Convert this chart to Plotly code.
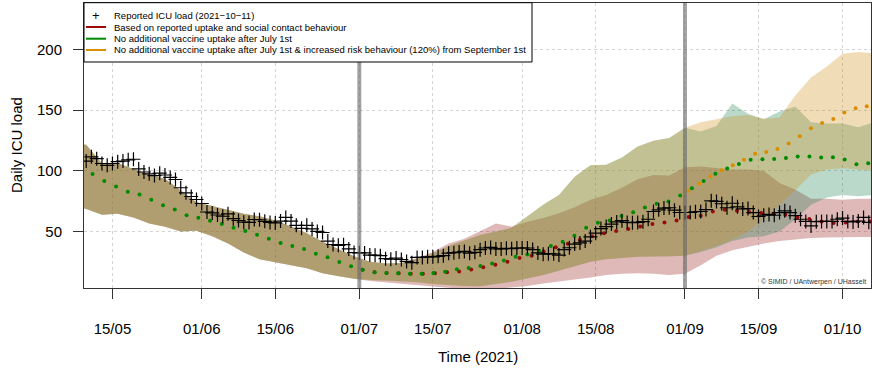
import pandas as pd
import plotly.graph_objects as go

BASE = pd.Timestamp("2021-05-10")

# ---------------- data ----------------
reported = [108, 111.5, 110, 106, 104.5, 106, 107.5, 108, 109, 109.5,
            101.5, 99, 97.5, 96, 98, 96.5, 94.5, 92.8, 86, 81.8,
            78.8, 76.3, 73, 66, 65.2, 63.5, 62.5, 64.5, 60.5, 59,
            57.6, 57.4, 59.8, 59.6, 58.3, 57.4, 57, 58.5, 61.5, 58.5,
            55, 52.5, 55, 52, 50, 49.1, 42, 39.2, 38.5, 39,
            35.5, 32.5, 32.2, 32.2, 30.5, 30.4, 30, 27.5, 27, 28,
            26.8, 25.2, 24.2, 28.5, 28.5, 29, 29, 29.4, 30, 32,
            32.4, 33, 33.5, 32, 32.7, 34.9, 36.3, 36.8, 35.5, 35.5,
            36, 35.7, 36.3, 36.3, 36.3, 35, 32.2, 31.2, 31.6, 31.5,
            30.5, 35, 36.5, 39.5, 40.5, 42, 45.5, 48.5, 52.3, 54,
            56, 57.8, 58.8, 57.4, 57.2, 57.4, 58, 60, 66.4, 67.8,
            69.2, 69.5, 67.5, 65.6, 65.6, 65.6, 66.2, 66.4, 68, 75.2,
            74.7, 72.8, 69.5, 73.2, 70.3, 68.5, 68.8, 65.5, 62.3, 63.3,
            64, 63.3, 65.5, 67, 65.5, 63, 60, 58.2, 54.5, 58,
            58.2, 58.2, 58.2, 60, 61, 58.2, 57.8, 58.5, 61.5, 57.5]
reported_dates = pd.date_range("2021-05-10", periods=len(reported), freq="D")

green_mean = [97.3, 91.5, 87, 82.7, 80.5, 76.2, 71.5, 68, 63.3, 61.2,
              58.7, 56, 53, 50.3, 47.3, 44, 40.4, 38, 35.5, 31.6,
              28.7, 24.8, 21.2, 18.3, 16.3, 15.7, 15.5, 15.1, 15.1, 15.6,
              16.8, 18.7, 19.8, 21.5, 23.5, 26, 29, 31, 34, 38,
              41.5, 46.5, 53, 57.2, 59, 62.6, 65.8, 69.8, 72.8, 74.6,
              79.6, 85.5, 91.5, 97.5, 101.8, 105.5, 109, 109.6, 109.8, 110.6,
              111.8, 111.8, 111, 111.2, 109.3, 105.4, 106.3]
green_dates = pd.date_range("2021-05-11 05:00", periods=len(green_mean), freq="3222min")

red_mean = [18.3, 16.3, 15.7, 15.5, 15.1, 15, 15.5, 16.2, 17, 18.5,
            20.5, 22.5, 25, 28, 30, 33.5, 37, 39.8, 43, 46,
            48.4, 50.3, 52, 54.1, 56.1, 57.4, 59, 61.8, 62.9, 66.4,
            67.8, 67, 65.9, 65.1, 64.5, 63.7, 61.5, 60.2, 58.2, 56.9,
            57.4, 58.2, 58.2]
red_dates = pd.date_range("2021-07-01 14:24", periods=len(red_mean), freq="3312min")

orange_mean = [83.5, 89.5, 95.5, 100.5, 104.5, 109, 114, 115.4, 118, 122.5,
               128.5, 135, 139.5, 142.8, 148, 151.6, 153.2]
orange_dates = pd.date_range("2021-09-01 14:24", periods=len(orange_mean), freq="3061min")

# uncertainty bands: shared part before July 1st (day offsets from 10 May)
pre_days = [-1, 0, 3, 6, 9, 12, 15, 18, 21, 24, 27, 30, 33, 36, 39, 42, 45, 48, 51]
pre_upper = [122, 121.5, 106, 106.5, 101.5, 97, 93.5, 84, 74, 71, 68, 64.5, 62.5, 59,
             54, 48.5, 41.5, 35.5, 29.5]
pre_lower = [69.5, 68.5, 63.8, 64.5, 61.5, 56.6, 53.8, 50, 50.5, 46, 40, 32.5, 27, 25,
             22, 19.5, 15.5, 13, 11]

post_days = [54, 57, 60, 63, 66, 69, 72, 75, 78, 81, 84, 87, 90, 93, 96, 99, 102, 105,
             108, 111, 114, 117, 120, 123, 126, 129, 132, 135, 138, 141, 144, 147, 150]
red_upper = [25, 23.5, 24, 28, 33, 40, 44, 50, 56.5, 54, 58, 61, 65, 70, 76, 80, 86, 93,
             96.5, 96, 103, 103.5, 102, 101, 101, 100, 90, 84.5, 77, 77, 76, 77, 77]
red_lower = [9, 8, 6.5, 5.5, 4.5, 3.5, 2.5, 2, 2.5, 3.5, 5, 7, 9, 10.5, 12, 14, 15, 15.5,
             15, 14, 15, 22, 30, 34.5, 37, 40, 42, 43.5, 44.5, 45, 45.3, 45.3, 45.3]
green_upper = [25, 23.5, 24, 27.5, 32, 38, 42.5, 47, 50, 53, 62.5, 72, 80, 95, 104.5, 105,
               111, 120, 124.8, 127, 135.5, 132.5, 137, 155.5, 147, 142.5, 149, 153, 140,
               139, 139, 136, 140]
green_lower = [10, 9.5, 9, 8, 6.5, 5.5, 5, 4.8, 6.5, 8.5, 11, 14, 17.5, 21, 25, 27, 28, 29,
               29.4, 29.5, 30, 33, 37, 42, 45, 46, 50, 60, 72, 78, 80, 79, 80]

# increased risk behaviour scenario (identical to green before September 1st)
sep_days = [114, 117, 120, 123, 126, 129, 132, 135, 138, 141, 144, 147, 150]
orange_upper = [135.5, 140, 142.5, 145, 146, 143, 144, 162, 177, 186, 196.5, 198, 197]
orange_lower = [30, 34, 38, 43, 50, 60, 72, 84, 97, 101, 102, 101, 100]

event_dates = ["2021-07-01", "2021-09-01"]
x_ticks = ["2021-05-15", "2021-06-01", "2021-06-15", "2021-07-01", "2021-07-15",
           "2021-08-01", "2021-08-15", "2021-09-01", "2021-09-15", "2021-10-01"]
x_ticklabels = ["15/05", "01/06", "15/06", "01/07", "15/07", "01/08", "15/08",
                "01/09", "15/09", "01/10"]
y_ticks = [50, 100, 150, 200]

legend_labels = ["Reported ICU load (2021\u221210\u221211)",
                 "Based on reported uptake and social contact behaviour",
                 "No additional vaccine uptake after July 1st",
                 "No additional vaccine uptake after July 1st & increased risk behaviour (120%) from September 1st"]

# ---------------- styles ----------------
RED = "#9B0A0A"
GREEN = "#008A00"
ORANGE = "#D98E00"
RED_FILL = "rgba(139,0,0,0.28)"
GREEN_FILL = "rgba(30,130,80,0.30)"
ORANGE_FILL = "rgba(210,140,20,0.30)"
FONT = "Liberation Sans, Arial, Helvetica, sans-serif"


def to_dates(days):
    return [BASE + pd.Timedelta(days=d) for d in days]


def band(days, upper, lower, fill):
    xs = to_dates(days)
    return go.Scatter(x=xs + xs[::-1], y=list(upper) + list(lower)[::-1],
                      fill="toself", fillcolor=fill, mode="lines",
                      line=dict(width=0), hoverinfo="skip", showlegend=False)


fig = go.Figure()

red_days = pre_days + post_days
green_days = pre_days + post_days
fig.add_trace(band(red_days, pre_upper + red_upper, pre_lower + red_lower, RED_FILL))
fig.add_trace(band(green_days, pre_upper + green_upper, pre_lower + green_lower, GREEN_FILL))
n_pre_sep = post_days.index(114)
o_days = pre_days + post_days[:n_pre_sep] + sep_days
o_up = pre_upper + green_upper[:n_pre_sep] + orange_upper
o_lo = pre_lower + green_lower[:n_pre_sep] + orange_lower
fig.add_trace(band(o_days, o_up, o_lo, ORANGE_FILL))

# vertical event lines
for d in event_dates:
    fig.add_shape(type="line", xref="x", yref="paper", x0=d, x1=d, y0=0, y1=1,
                  line=dict(color="rgba(105,105,105,0.62)", width=4), layer="above")

# model means
fig.add_trace(go.Scatter(x=red_dates, y=red_mean, mode="markers",
                         marker=dict(color=RED, size=4), showlegend=False))
fig.add_trace(go.Scatter(x=orange_dates, y=orange_mean, mode="markers",
                         marker=dict(color=ORANGE, size=4), showlegend=False))
fig.add_trace(go.Scatter(x=green_dates, y=green_mean, mode="markers",
                         marker=dict(color=GREEN, size=4), showlegend=False))

# reported data
fig.add_trace(go.Scatter(x=reported_dates, y=reported, mode="markers",
                         marker=dict(symbol="cross-thin", size=10,
                                     line=dict(color="black", width=1.2)),
                         showlegend=False))

# ---------------- layout ----------------
L, R, T, B = 84, 1, 3, 80
W, H = 872, 368
PW, PH = W - L - R, H - T - B


def px(x):
    return (x - L) / PW


def py(y):
    return (H - B - y) / PH


fig.update_layout(
    width=W, height=H, margin=dict(l=L, r=R, t=T, b=B),
    paper_bgcolor="white", plot_bgcolor="white",
    font=dict(family=FONT, color="black"),
    showlegend=False,
)
fig.update_xaxes(
    range=["2021-05-09 14:00", "2021-10-06 10:00"],
    tickvals=x_ticks, ticktext=x_ticklabels,
    ticks="outside", ticklen=10, tickcolor="#333", tickwidth=1,
    tickfont=dict(size=15), ticklabelstandoff=17,
    showline=True, linecolor="#333", linewidth=1, mirror=True,
    showgrid=True, gridcolor="#D3D3D3", griddash="dot", gridwidth=1,
    zeroline=False,
)
fig.update_yaxes(
    range=[3.3, 238.4],
    tickvals=y_ticks, ticks="outside", ticklen=10, tickcolor="#333",
    tickfont=dict(size=15), ticklabelstandoff=8,
    showline=True, linecolor="#333", linewidth=1, mirror=True,
    showgrid=True, gridcolor="#D3D3D3", griddash="dot", gridwidth=1,
    zeroline=False,
)

ann = []
ann.append(dict(text="Daily ICU load", x=px(16), y=py(145), xref="paper", yref="paper",
                textangle=-90, showarrow=False, font=dict(size=15),
                xanchor="center", yanchor="middle"))
ann.append(dict(text="Time (2021)", x=px(478), y=py(356), xref="paper", yref="paper",
                showarrow=False, font=dict(size=15), xanchor="center", yanchor="middle"))
ann.append(dict(text="\u00a9 SIMID / UAntwerpen / UHasselt", x=px(868), y=py(282),
                xref="paper", yref="paper", showarrow=False,
                font=dict(size=7, color="#333"), xanchor="right", yanchor="middle"))

# legend box (drawn manually to match the compact base-R legend)
fig.add_shape(type="rect", xref="paper", yref="paper", x0=px(84), x1=px(532),
              y0=py(62), y1=py(2.7), line=dict(color="black", width=1),
              fillcolor="white", layer="above")
rows = [15, 27, 38.7, 50]
line_cols = [None, RED, GREEN, ORANGE]
for i, (yrow, lab) in enumerate(zip(rows, legend_labels)):
    if line_cols[i] is None:
        ann.append(dict(text="+", x=px(96), y=py(yrow), xref="paper", yref="paper",
                        showarrow=False, font=dict(size=13), xanchor="center",
                        yanchor="middle"))
    else:
        fig.add_shape(type="line", xref="paper", yref="paper", x0=px(86), x1=px(106),
                      y0=py(yrow), y1=py(yrow), line=dict(color=line_cols[i], width=2),
                      layer="above")
    ann.append(dict(text=lab, x=px(112), y=py(yrow), xref="paper", yref="paper",
                    showarrow=False, font=dict(size=9.5), xanchor="left",
                    yanchor="middle"))
fig.update_layout(annotations=ann)

fig.write_html("out.html")
